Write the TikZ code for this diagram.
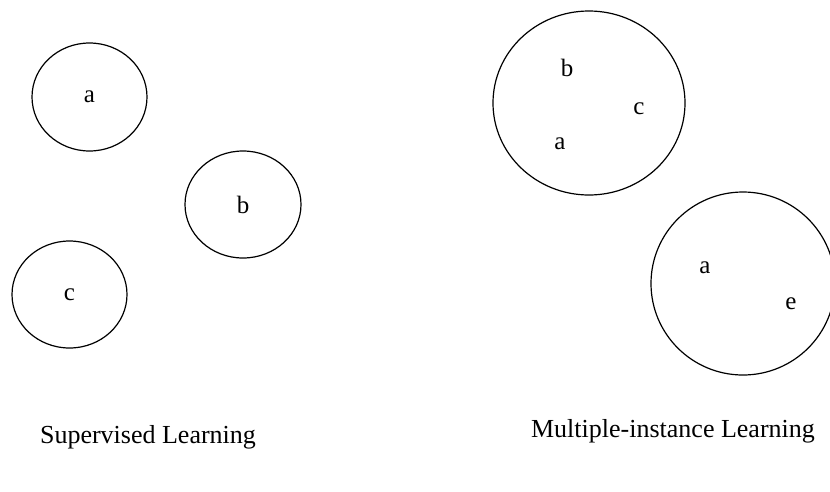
\documentclass[tikz,border=0pt]{standalone}
\usepackage{fontspec}
\setmainfont{Liberation Serif}
\usepackage{tikz}
\usetikzlibrary{shapes.geometric, positioning}

\begin{document}
\begin{tikzpicture}[
    x=1pt, y=-1pt,
    line width=1.2pt,
    bag/.style={
        draw,
        ellipse,
        inner sep=0pt,
        font=\fontsize{25}{29}\selectfont
    },
    item/.style={font=\fontsize{25}{29}\selectfont, inner sep=0pt},
    caption/.style={font=\fontsize{26}{31}\selectfont, inner sep=0pt}
]
    \useasboundingbox (0,0) rectangle (830,491);

    % SUPERVISED LEARNING
    \node[bag, minimum width=115pt, minimum height=108pt] (sa) at (89.5,97) {a};
    \node[bag, minimum width=116pt, minimum height=107pt] (sb) at (243,204.5) {b};
    \node[bag, minimum width=115pt, minimum height=107pt] (sc) at (69.5,294.5) {c};

    \node[caption] (sup) at (148,437) {Supervised Learning};

    % MULTIPLE-INSTANCE LEARNING
    \node[bag, minimum width=192pt, minimum height=184pt] (bag1) at (589,103) {};
    \node[item] (b1b) at (567,68) {b};
    \node[item] (b1c) at (639,109) {c};
    \node[item] (b1a) at (560,144) {a};

    \node[bag, minimum width=184pt, minimum height=183pt] (bag2) at (743,283.5) {};
    \node[item] (b2a) at (705,268) {a};
    \node[item] (b2e) at (791,304) {e};

    \node[caption] (mil) at (673,431) {Multiple-instance Learning};

\end{tikzpicture}
\end{document}
